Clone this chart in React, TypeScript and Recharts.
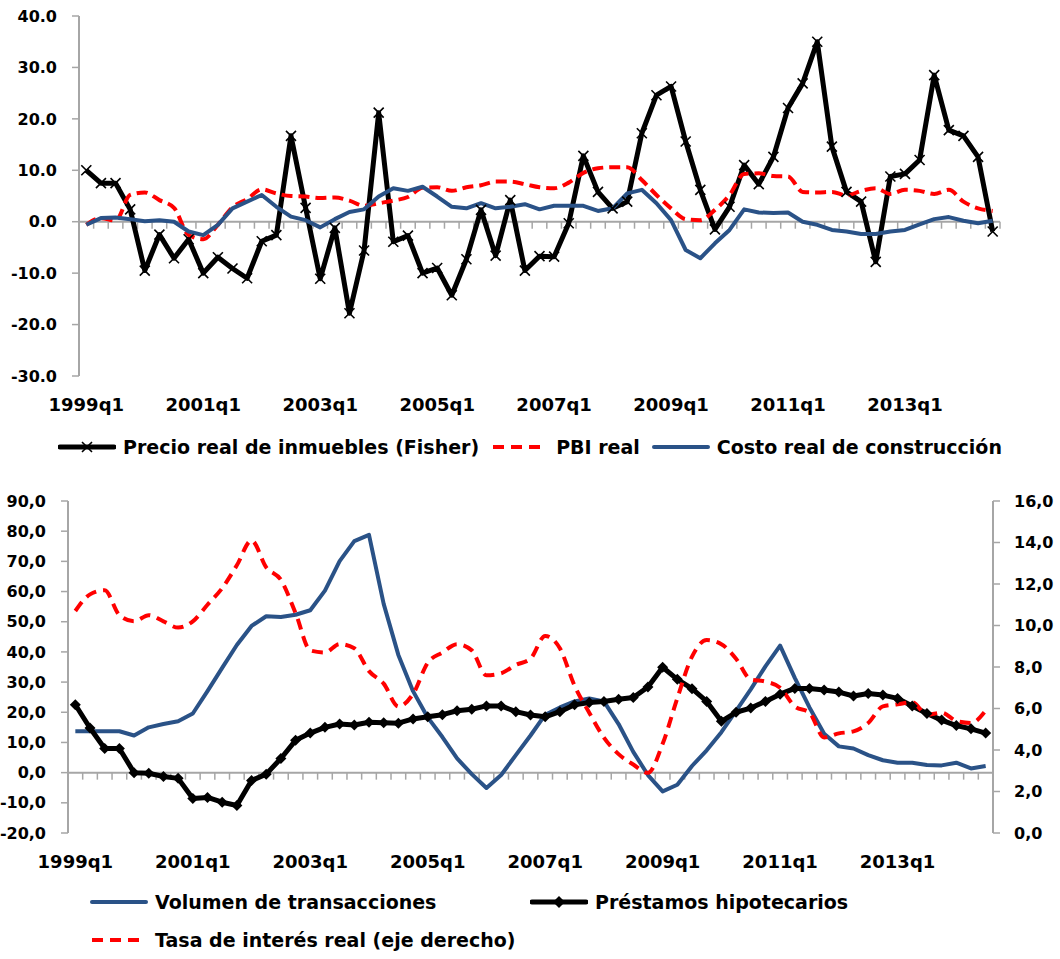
import { LineChart, Line, XAxis, YAxis, Legend, ReferenceLine } from 'recharts'

const FONT = '"DejaVu Sans", Verdana, sans-serif'
const BLUE = '#2A5287'
const RED = '#FF0000'
const AXIS = '#A6A6A6'

// 1999q1 … 2014q3
const years = [1999, 2000, 2001, 2002, 2003, 2004, 2005, 2006, 2007, 2008, 2009, 2010, 2011, 2012, 2013, 2014]
const quarters = years.flatMap((y) => ['q1', 'q2', 'q3', 'q4'].map((q) => `${y}${q}`)).slice(0, 63)

// panel superior (%)
const precioReal = [
  10.0, 7.5, 7.5, 2.4, -9.5, -2.5, -7.1, -3.4, -10.0, -6.9, -9.1, -11.0, -3.8, -2.6, 16.7, 2.7, -11.1, -1.2, -17.8,
  -5.6, 21.2, -3.9, -2.7, -10.0, -9.0, -14.3, -7.3, 2.3, -6.6, 4.2, -9.5, -6.7, -6.8, -0.3, 12.8, 5.8, 2.6, 3.9, 17.2,
  24.6, 26.3, 15.6, 6.2, -1.5, 2.9, 11.0, 7.3, 12.6, 22.1, 26.9, 35.0, 14.6, 5.8, 3.9, -7.8, 8.8, 9.3, 12.0, 28.5, 17.8,
  16.7, 12.6, -1.9,
]
const pbiReal = [
  -0.6, 0.7, 0.2, 5.2, 5.7, 4.2, 2.7, -2.6, -3.4, -0.6, 2.8, 4.4, 6.3, 5.5, 5.0, 4.9, 4.6, 4.7, 4.1, 3.1, 3.6, 4.1, 4.8,
  6.6, 6.7, 6.0, 6.7, 7.1, 7.8, 7.8, 7.3, 6.7, 6.5, 7.6, 9.5, 10.4, 10.6, 10.6, 8.1, 5.2, 2.6, 0.5, 0.3, 2.3, 5.2, 9.3,
  9.4, 8.9, 8.8, 5.8, 5.7, 5.8, 5.1, 6.0, 6.5, 5.4, 6.2, 6.0, 5.4, 6.2, 3.9, 2.6, 2.1,
]
const costoConstruccion = [
  -0.6, 0.7, 0.8, 0.5, 0.1, 0.3, 0.0, -1.9, -2.6, -0.6, 2.6, 3.9, 5.2, 2.9, 1.0, 0.3, -1.1, 0.5, 1.9, 2.4, 4.9, 6.5,
  6.0, 6.8, 4.9, 2.9, 2.6, 3.6, 2.6, 2.9, 3.4, 2.4, 3.1, 3.1, 3.1, 2.1, 2.6, 5.5, 6.2, 3.6, 0.3, -5.5, -7.1, -4.2, -1.6,
  2.4, 1.8, 1.7, 1.8, 0.0, -0.6, -1.6, -1.9, -2.4, -2.4, -1.9, -1.6, -0.5, 0.5, 0.9, 0.2, -0.3, 0.2,
]
const topTicks = [-30, -20, -10, 0, 10, 20, 30, 40]

// panel inferior
const volumenTransacciones = [
  13.7, 13.7, 13.7, 13.7, 12.3, 15.0, 16.1, 17.0, 19.6, 27.0, 34.7, 42.3, 48.6, 51.8, 51.6, 52.3, 53.8, 60.3, 70.1,
  76.7, 78.8, 55.9, 39.0, 27.0, 18.3, 11.8, 4.7, -0.5, -5.1, -0.8, 5.8, 12.3, 19.2, 21.6, 23.6, 24.6, 23.6, 16.1, 6.9,
  -0.8, -6.2, -4.0, 2.2, 7.4, 13.4, 20.5, 27.6, 35.2, 42.1, 31.4, 21.6, 12.9, 8.7, 8.0, 5.8, 4.1, 3.3, 3.3, 2.5, 2.4,
  3.3, 1.4, 2.2,
]
const prestamosHipotecarios = [
  22.5, 14.8, 8.0, 8.0, 0.0, -0.2, -1.3, -1.9, -8.6, -8.2, -9.8, -10.9, -2.6, -0.5, 4.7, 10.7, 13.1, 15.0, 16.1, 15.8,
  16.7, 16.5, 16.4, 17.8, 18.5, 19.2, 20.5, 21.0, 22.1, 22.1, 20.2, 19.1, 18.5, 20.2, 22.5, 23.2, 23.6, 24.3, 24.9, 28.4,
  34.9, 30.9, 27.8, 23.6, 17.0, 20.0, 21.4, 23.6, 26.0, 27.9, 27.9, 27.4, 26.7, 25.4, 26.2, 25.7, 24.6, 22.1, 19.6, 17.4,
  15.6, 14.5, 13.1,
]
const tasaInteresReal = [
  10.7, 11.5, 11.7, 10.5, 10.2, 10.5, 10.2, 9.9, 10.2, 11.0, 11.8, 12.9, 14.1, 12.8, 12.2, 10.6, 8.8, 8.7, 9.1, 8.9, 7.8,
  7.2, 6.1, 6.7, 8.2, 8.7, 9.1, 8.8, 7.6, 7.7, 8.1, 8.4, 9.5, 8.9, 7.1, 5.8, 4.6, 3.8, 3.3, 2.9, 4.3, 6.5, 8.5, 9.3, 9.1,
  8.4, 7.4, 7.3, 7.0, 6.1, 5.8, 4.6, 4.8, 4.9, 5.3, 6.1, 6.2, 6.3, 5.7, 5.8, 5.4, 5.3, 5.9,
]
const leftTicks = [-20, -10, 0, 10, 20, 30, 40, 50, 60, 70, 80, 90]
const rightTicks = [0, 2, 4, 6, 8, 10, 12, 14, 16]

const topData = quarters.map((q, i) => ({ q, precio: precioReal[i], pbi: pbiReal[i], costo: costoConstruccion[i] }))
const bottomData = quarters.map((q, i) => ({
  q,
  volumen: volumenTransacciones[i],
  prestamos: prestamosHipotecarios[i],
  tasa: tasaInteresReal[i],
}))

const tickText = { fontSize: 16, fontWeight: 'bold', fill: '#000', fontFamily: FONT }
const xTickText = { ...tickText, fontSize: 18 }

/** línea del cero con las marcas de categoría colgando hacia abajo */
function zeroAxis(n: number) {
  return (p: any) => {
    const a = Math.min(p.x1, p.x2)
    const b = Math.max(p.x1, p.x2)
    const band = (b - a) / n
    return (
      <g>
        <line x1={a} y1={p.y1} x2={b} y2={p.y2} stroke={AXIS} strokeWidth={2} />
        {Array.from({ length: n + 1 }, (_, k) => (
          <line key={k} x1={a + k * band} x2={a + k * band} y1={p.y1} y2={p.y1 + 7} stroke={AXIS} strokeWidth={1.5} />
        ))}
      </g>
    )
  }
}

const crossDot = (p: any) => {
  const { cx, cy } = p
  const s = 5
  return (
    <path
      key={p.index}
      d={`M${cx - s},${cy - s}L${cx + s},${cy + s}M${cx - s},${cy + s}L${cx + s},${cy - s}`}
      stroke="#000"
      strokeWidth={1.6}
      fill="none"
    />
  )
}

const diamondDot = (p: any) => {
  const { cx, cy } = p
  const s = 5.5
  return <path key={p.index} d={`M${cx},${cy - s}L${cx + s},${cy}L${cx},${cy + s}L${cx - s},${cy}Z`} fill="#000" />
}

function Icon({ kind }: { kind: 'cross' | 'dash' | 'blue' | 'diamond' }) {
  return (
    <svg width={58} height={14} style={{ marginRight: 7, flex: 'none' }}>
      {kind === 'dash' ? (
        <line x1={2} y1={7} x2={56} y2={7} stroke={RED} strokeWidth={4} strokeDasharray="11 7" />
      ) : (
        <line x1={2} y1={7} x2={56} y2={7} stroke={kind === 'blue' ? BLUE : '#000'} strokeWidth={kind === 'blue' ? 4 : 5} strokeLinecap="round" />
      )}
      {kind === 'cross' && <path d="M24,2L34,12M24,12L34,2" stroke="#000" strokeWidth={1.6} />}
      {kind === 'diamond' && <path d="M29,1L35,7L29,13L23,7Z" fill="#000" />}
    </svg>
  )
}

const legendText = { fontFamily: FONT, fontWeight: 'bold' as const, fontSize: 19, color: '#000', whiteSpace: 'nowrap' as const }

function TopLegend() {
  return (
    <div style={{ ...legendText, display: 'flex', justifyContent: 'center', alignItems: 'center', height: 30, gap: 12 }}>
      <span style={{ display: 'flex', alignItems: 'center' }}>
        <Icon kind="cross" />
        Precio real de inmuebles (Fisher)
      </span>
      <span style={{ display: 'flex', alignItems: 'center' }}>
        <Icon kind="dash" />
        PBI real
      </span>
      <span style={{ display: 'flex', alignItems: 'center' }}>
        <Icon kind="blue" />
        Costo real de construcción
      </span>
    </div>
  )
}

function BottomLegend() {
  const row = { display: 'flex', alignItems: 'center', height: 38 }
  return (
    <div style={{ ...legendText, paddingLeft: 90, height: 76, display: 'grid', gridTemplateColumns: '440px auto' }}>
      <span style={row}>
        <Icon kind="blue" />
        Volumen de transacciones
      </span>
      <span style={row}>
        <Icon kind="diamond" />
        Préstamos hipotecarios
      </span>
      <span style={row}>
        <Icon kind="dash" />
        Tasa de interés real (eje derecho)
      </span>
    </div>
  )
}

export default function App() {
  return (
    <div style={{ position: 'absolute', left: 0, top: 0, width: 1060, height: 959, background: '#fff' }}>
      <div style={{ position: 'absolute', left: 0, top: 0 }}>
        <LineChart width={1060} height={470} data={topData} margin={{ top: 16, right: 60, bottom: 8, left: 0 }}>
          <XAxis
            dataKey="q"
            scale="band"
            interval={7}
            tickLine={false}
            axisLine={false}
            tickSize={0}
            tickMargin={22}
            height={56}
            tick={xTickText}
          />
          <YAxis
            width={79}
            domain={[-30, 40]}
            ticks={topTicks}
            interval={0}
            tickFormatter={(v: number) => v.toFixed(1)}
            axisLine={{ stroke: AXIS, strokeWidth: 2 }}
            tickLine={{ stroke: AXIS, strokeWidth: 1.5 }}
            tickSize={7}
            tickMargin={15}
            tick={tickText}
          />
          <ReferenceLine y={0} shape={zeroAxis(quarters.length)} />
          <Line
            dataKey="precio"
            stroke="#000"
            strokeWidth={5}
            strokeLinejoin="round"
            dot={crossDot}
            isAnimationActive={false}
          />
          <Line
            dataKey="pbi"
            type="monotone"
            stroke={RED}
            strokeWidth={4}
            strokeDasharray="11 6"
            dot={false}
            isAnimationActive={false}
          />
          <Line dataKey="costo" stroke={BLUE} strokeWidth={4} strokeLinejoin="round" dot={false} isAnimationActive={false} />
          <Legend verticalAlign="bottom" content={() => <TopLegend />} wrapperStyle={{ left: 0, width: 1060 }} />
        </LineChart>
      </div>

      <div style={{ position: 'absolute', left: 0, top: 480 }}>
        <LineChart width={1060} height={479} data={bottomData} margin={{ top: 21, right: 0, bottom: 0, left: 0 }}>
          <XAxis
            dataKey="q"
            scale="band"
            interval={7}
            tickLine={false}
            axisLine={false}
            tickSize={0}
            tickMargin={22}
            height={50}
            tick={xTickText}
          />
          <YAxis
            yAxisId="left"
            width={68}
            domain={[-20, 90]}
            ticks={leftTicks}
            interval={0}
            tickFormatter={(v: number) => v.toFixed(1).replace('.', ',')}
            axisLine={{ stroke: AXIS, strokeWidth: 2 }}
            tickLine={{ stroke: AXIS, strokeWidth: 1.5 }}
            tickSize={7}
            tickMargin={15}
            tick={tickText}
          />
          <YAxis
            yAxisId="right"
            orientation="right"
            width={67}
            domain={[0, 16]}
            ticks={rightTicks}
            interval={0}
            tickFormatter={(v: number) => v.toFixed(1).replace('.', ',')}
            axisLine={{ stroke: AXIS, strokeWidth: 2 }}
            tickLine={{ stroke: AXIS, strokeWidth: 1.5 }}
            tickSize={7}
            tickMargin={14}
            tick={{ ...tickText, textAnchor: 'start' }}
          />
          <ReferenceLine yAxisId="left" y={0} shape={zeroAxis(quarters.length)} />
          <Line
            yAxisId="left"
            dataKey="volumen"
            stroke={BLUE}
            strokeWidth={4}
            strokeLinejoin="round"
            dot={false}
            isAnimationActive={false}
          />
          <Line
            yAxisId="left"
            dataKey="prestamos"
            stroke="#000"
            strokeWidth={5}
            strokeLinejoin="round"
            dot={diamondDot}
            isAnimationActive={false}
          />
          <Line
            yAxisId="right"
            dataKey="tasa"
            type="monotone"
            stroke={RED}
            strokeWidth={4}
            strokeDasharray="11 7"
            dot={false}
            isAnimationActive={false}
          />
          <Legend verticalAlign="bottom" content={() => <BottomLegend />} wrapperStyle={{ left: 0, width: 1060 }} />
        </LineChart>
      </div>
    </div>
  )
}
